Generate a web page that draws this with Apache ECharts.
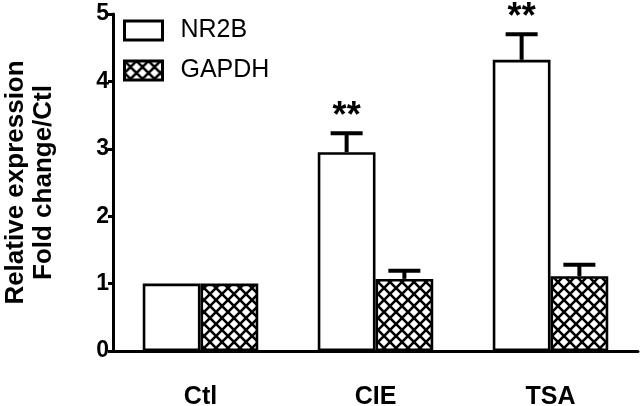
<!DOCTYPE html>
<html>
<head>
<meta charset="utf-8">
<script src="https://cdn.jsdelivr.net/npm/echarts@6/dist/echarts.min.js"></script>
<style>
  html, body { margin: 0; padding: 0; background: #fff; }
  #chart { width: 640px; height: 406px; }
</style>
</head>
<body>
<div id="chart"></div>
<script>
// ---- data ----
const categories = ['Ctl', 'CIE', 'TSA'];
const seriesNames = ['NR2B', 'GAPDH'];
const nr2bMeans = [1, 2.95, 4.32];
const nr2bErrors = [0, 0.28, 0.38];
const gapdhMeans = [1, 1.07, 1.11];
const gapdhErrors = [0, 0.12, 0.17];
const nr2bSignificance = ['', '**', '**'];
const gapdhSignificance = ['', '', ''];
const yTicks = { min: 0, max: 5, interval: 1 };

// ---- styles ----
const FONT = '"Liberation Sans", Arial, Helvetica, sans-serif';

function makeHatch() {
  const s = 12;
  const c = document.createElement('canvas');
  c.width = s; c.height = s;
  const g = c.getContext('2d');
  g.fillStyle = '#fff';
  g.fillRect(0, 0, s, s);
  g.strokeStyle = '#000';
  g.lineWidth = 2.6;
  for (const o of [-s, 0, s]) {
    g.beginPath(); g.moveTo(o, 0); g.lineTo(o + s, s); g.stroke();
    g.beginPath(); g.moveTo(o + s, 0); g.lineTo(o, s); g.stroke();
  }
  return c;
}
const hatch = { image: makeHatch(), repeat: 'repeat' };

const BAR_GAP_CAT = 0.34;
const HALF_OFFSET = (1 - BAR_GAP_CAT) / 4;

function errData(means, errs, sig, side) {
  return means.map((m, i) => [i, m, errs[i], side, sig[i]]);
}

function renderErr(params, api) {
  const idx = api.value(0);
  const mean = api.value(1);
  const err = api.value(2);
  const side = api.value(3);
  const sig = api.value(4);
  const band = api.size([1, 0])[0];
  const x = api.coord([idx, 0])[0] + side * band * HALF_OFFSET;
  const yBase = api.coord([idx, mean])[1];
  const yTop = api.coord([idx, mean + err])[1];
  const children = [];
  if (err > 0) {
    children.push({ type: 'line', shape: { x1: x, y1: yBase, x2: x, y2: yTop },
      style: { stroke: '#000', lineWidth: 4 } });
    children.push({ type: 'line', shape: { x1: x - 16, y1: yTop, x2: x + 16, y2: yTop },
      style: { stroke: '#000', lineWidth: 4 } });
  }
  if (sig) {
    children.push({ type: 'text', x: x, y: yTop - 16,
      style: { text: sig, fill: '#000', font: 'bold 36px ' + FONT, textAlign: 'center', textVerticalAlign: 'middle' } });
  }
  return { type: 'group', children };
}

const chart = echarts.init(document.getElementById('chart'), null, { renderer: 'canvas' });
chart.setOption({
  animation: false,
  backgroundColor: '#fff',
  grid: { left: 113, right: 2, top: 14, bottom: 55, containLabel: false, outerBoundsMode: 'none' },
  legend: {
    data: seriesNames,
    orient: 'vertical',
    left: 123, top: 18, padding: 0,
    icon: 'rect',
    itemWidth: 38, itemHeight: 19, itemGap: 15,
    itemStyle: { borderWidth: 3, borderColor: '#000' },
    textStyle: { fontFamily: FONT, fontSize: 25, color: '#000', padding: [0, 0, 0, 13] }
  },
  xAxis: {
    type: 'category',
    data: categories,
    axisLine: { lineStyle: { color: '#000', width: 3 } },
    axisTick: { show: false },
    axisLabel: { color: '#000', fontFamily: FONT, fontWeight: 'bold', fontSize: 25, margin: 34 }
  },
  yAxis: {
    type: 'value',
    min: yTicks.min, max: yTicks.max, interval: yTicks.interval,
    name: 'Relative expression\nFold change/Ctl',
    nameLocation: 'middle',
    nameRotate: 90,
    nameGap: 55,
    nameTextStyle: { color: '#000', fontFamily: FONT, fontWeight: 'bold', fontSize: 26, lineHeight: 28 },
    axisLine: { show: true, lineStyle: { color: '#000', width: 3 } },
    axisTick: { show: true, length: 5, lineStyle: { color: '#000', width: 3 } },
    axisLabel: { color: '#000', fontFamily: FONT, fontWeight: 'bold', fontSize: 23, margin: 4 },
    splitLine: { show: false }
  },
  series: [
    { name: 'NR2B', type: 'bar', data: nr2bMeans, barGap: '0%', barCategoryGap: (BAR_GAP_CAT * 100) + '%',
      itemStyle: { color: '#fff', borderColor: '#000', borderWidth: 2.6 } },
    { name: 'GAPDH', type: 'bar', data: gapdhMeans, barGap: '0%', barCategoryGap: (BAR_GAP_CAT * 100) + '%',
      itemStyle: { color: hatch, borderColor: '#000', borderWidth: 2.6 } },
    { name: 'NR2B err', type: 'custom', renderItem: renderErr, z: 5,
      data: errData(nr2bMeans, nr2bErrors, nr2bSignificance, -1) },
    { name: 'GAPDH err', type: 'custom', renderItem: renderErr, z: 5,
      data: errData(gapdhMeans, gapdhErrors, gapdhSignificance, 1) }
  ]
});
</script>
</body>
</html>
